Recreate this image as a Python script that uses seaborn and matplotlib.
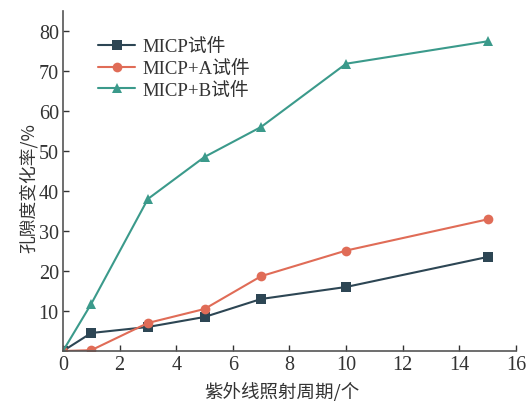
import matplotlib
matplotlib.use("Agg")
import matplotlib.pyplot as plt
import seaborn as sns
import pandas as pd

cycles = [0, 1, 3, 5, 7, 10, 15]
micp = [0, 4.5, 6.0, 8.5, 13.0, 16.0, 23.5]
micp_a = [0, 0.2, 7.0, 10.5, 18.7, 25.1, 32.9]
micp_b = [0, 11.8, 38.0, 48.5, 56.0, 71.8, 77.4]
series_names = ["MICP试件", "MICP+A试件", "MICP+B试件"]
colors = ["#2d4654", "#e06c57", "#3b9a8b"]
markers = ["s", "o", "^"]
x_ticks = [0, 2, 4, 6, 8, 10, 12, 14, 16]
y_ticks = [10, 20, 30, 40, 50, 60, 70, 80]

rows = []
for name, vals in zip(series_names, [micp, micp_a, micp_b]):
    for c, v in zip(cycles, vals):
        rows.append({"cycle": c, "rate": v, "series": name})
df = pd.DataFrame(rows)

sns.set_style("ticks")
fams = ["Liberation Serif", "Noto Sans CJK SC"]
plt.rcParams["font.family"] = fams

fig = plt.figure(figsize=(5.31, 4.02), dpi=100)
ax = fig.add_axes([0.1186, 0.1244, 0.853, 0.846])

sns.lineplot(data=df, x="cycle", y="rate", hue="series", style="series",
             hue_order=series_names, style_order=series_names,
             palette=colors, markers=markers, dashes=False,
             markersize=7, linewidth=1.5, markeredgewidth=0, ax=ax)

ax.set_xlim(0, 16)
ax.set_ylim(0, 85)
ax.set_xticks(x_ticks)
ax.set_yticks(y_ticks)
ax.tick_params(direction="in", length=4, width=1, labelsize=14.5, colors="#333333", pad=3)
for s in ["top", "right"]:
    ax.spines[s].set_visible(False)
for s in ["left", "bottom"]:
    ax.spines[s].set_color("#555555")
    ax.spines[s].set_linewidth(1.2)

ax.set_xlabel("紫外线照射周期/个", fontsize=13.3, color="#333333", family=["Noto Sans CJK SC"], labelpad=3)
ax.set_ylabel("孔隙度变化率/%", fontsize=12.8, color="#333333", family=["Noto Sans CJK SC"], labelpad=4)
ax.xaxis.set_label_coords(0.483, -0.09)
ax.yaxis.set_label_coords(-0.055, 0.482)

leg = ax.legend(loc="upper left", bbox_to_anchor=(0.069, 0.931), frameon=False,
                borderaxespad=0,
                prop={"family": fams, "size": 13.5}, handlelength=2.0,
                labelspacing=0.25, handletextpad=0.35, borderpad=0.2)
for t in leg.get_texts():
    t.set_color("#333333")

fig.savefig("out.png", dpi=100)
